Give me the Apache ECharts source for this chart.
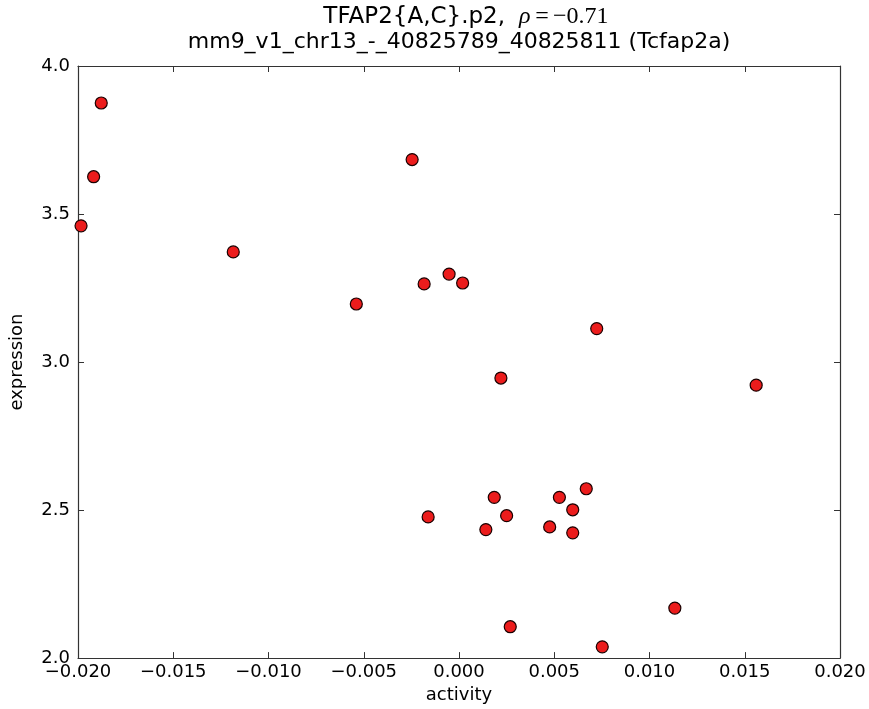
<!DOCTYPE html>
<html>
<head>
<meta charset="utf-8">
<script src="https://cdn.jsdelivr.net/npm/echarts@6/dist/echarts.min.js"></script>
<style>
  html, body { margin: 0; padding: 0; background: #fff; }
  #chart { width: 869px; height: 709px; }
</style>
</head>
<body>
<div id="chart"></div>
<script>
// activity / expression pairs
const activity = [
  -0.01984, -0.01918, -0.01878, -0.01185, -0.00539, -0.00246,
  -0.00183, -0.00052, 0.00019, 0.00723, 0.00220, 0.01560,
  -0.00162, 0.00185, 0.00250, 0.00141, 0.00527, 0.00668,
  0.00597, 0.00476, 0.00597, 0.00269, 0.00752, 0.01133
]
const expression = [
  3.460, 3.626, 3.875, 3.372, 3.196, 3.684,
  3.264, 3.297, 3.267, 3.113, 2.946, 2.922,
  2.477, 2.543, 2.481, 2.434, 2.543, 2.572,
  2.501, 2.443, 2.423, 2.106, 2.038, 2.169
]
const xTicks = [-0.02, 0.02, 0.005]   // min, max, step
const yTicks = [2.0, 4.0, 0.5]
const titleMain = 'TFAP2{A,C}.p2,'
const titleRho = ['ρ', '=', '−0.71']
const titleSub = 'mm9_v1_chr13_-_40825789_40825811 (Tcfap2a)'

const points = activity.map((x, i) => [x, expression[i]])

const font = 'DejaVu Sans'
const axisColor = '#333'

function fmtX (v) {
  const s = Math.abs(v).toFixed(3)
  return v < -1e-9 ? '−' + s : s
}

const tickStyle = { show: true, inside: true, length: 6, lineStyle: { color: axisColor, width: 1 } }

function txt (x, y, text, f, align) {
  return {
    type: 'text', x: x, y: y,
    style: { text: text, font: f, fill: '#000', align: align, verticalAlign: 'middle' }
  }
}

const chart = echarts.init(document.getElementById('chart'))
chart.setOption({
  animation: false,
  backgroundColor: '#fff',
  grid: { left: 76, right: 29, top: 66, bottom: 50 },
  graphic: [
    txt(505, 17, titleMain, '23px "DejaVu Sans"', 'right'),
    txt(519, 17, titleRho[0], 'italic 24px "Liberation Serif"', 'left'),
    txt(542, 17, titleRho[1], '24px "Liberation Serif"', 'center'),
    txt(553, 17, titleRho[2], '24px "Liberation Serif"', 'left'),
    txt(459, 42, titleSub, '22px "DejaVu Sans"', 'center')
  ],
  xAxis: [
    {
      type: 'value', position: 'bottom',
      min: xTicks[0], max: xTicks[1], interval: xTicks[2],
      name: 'activity', nameLocation: 'middle', nameGap: 27,
      nameTextStyle: { fontFamily: font, fontSize: 18, color: '#000' },
      axisLine: { show: true, onZero: false, lineStyle: { color: axisColor, width: 1.2 } },
      axisTick: tickStyle,
      axisLabel: { fontFamily: font, fontSize: 18, color: '#000', margin: 5, formatter: fmtX, showMinLabel: true, showMaxLabel: true },
      splitLine: { show: false }
    },
    {
      type: 'value', position: 'top',
      min: xTicks[0], max: xTicks[1], interval: xTicks[2],
      axisLine: { show: true, onZero: false, lineStyle: { color: axisColor, width: 1.2 } },
      axisTick: tickStyle,
      axisLabel: { show: false },
      splitLine: { show: false }
    }
  ],
  yAxis: [
    {
      type: 'value', position: 'left',
      min: yTicks[0], max: yTicks[1], interval: yTicks[2],
      name: 'expression', nameLocation: 'middle', nameGap: 52,
      nameTextStyle: { fontFamily: font, fontSize: 18, color: '#000' },
      axisLine: { show: true, onZero: false, lineStyle: { color: axisColor, width: 1.2 } },
      axisTick: tickStyle,
      axisLabel: { fontFamily: font, fontSize: 18, color: '#000', margin: 8, formatter: v => v.toFixed(1), showMinLabel: true, showMaxLabel: true },
      splitLine: { show: false }
    },
    {
      type: 'value', position: 'right',
      min: yTicks[0], max: yTicks[1], interval: yTicks[2],
      axisLine: { show: true, onZero: false, lineStyle: { color: axisColor, width: 1.2 } },
      axisTick: tickStyle,
      axisLabel: { show: false },
      splitLine: { show: false }
    }
  ],
  series: [
    {
      type: 'scatter',
      xAxisIndex: 0,
      yAxisIndex: 0,
      data: points,
      symbol: 'circle',
      symbolSize: 12,
      itemStyle: { color: '#ec1c1c', borderColor: '#1a0000', borderWidth: 1.2, opacity: 1 },
      clip: false
    }
  ]
})
</script>
</body>
</html>
